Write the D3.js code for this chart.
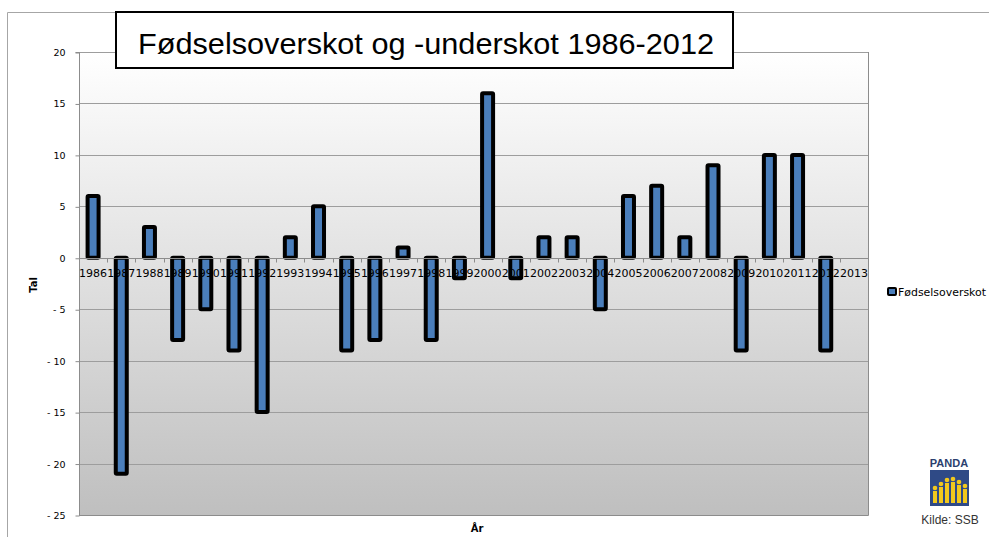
<!DOCTYPE html>
<html><head><meta charset="utf-8">
<script src="https://cdn.jsdelivr.net/npm/d3@7"></script>
<style>body{margin:0;background:#fff}svg{display:block}</style>
</head><body>
<svg id="c" width="989" height="537"></svg>
<script>
const years = ["1986","1987","1988","1989","1990","1991","1992","1993","1994","1995","1996","1997","1998","1999","2000","2001","2002","2003","2004","2005","2006","2007","2008","2009","2010","2011","2012","2013"];
const values = [6,-21,3,-8,-5,-9,-15,2,5,-9,-8,1,-8,-2,16,-2,2,2,-5,6,7,2,9,-9,10,10,-9,null];
const yTicks = [20,15,10,5,0,-5,-10,-15,-20,-25];
const seriesName = "Fødselsoverskot";
const title = "Fødselsoverskot og -underskot 1986-2012";

const svg = d3.select("#c");
const L = 79, R = 868, T = 52, B = 515;

// outer chart frame
svg.append("path").attr("d", "M7.5,537 V12.5 H989").attr("fill","none").attr("stroke","#a6a6a6");

const defs = svg.append("defs");
const g = defs.append("linearGradient").attr("id","bg").attr("x1",0).attr("y1",0).attr("x2",0).attr("y2",1);
g.append("stop").attr("offset","0%").attr("stop-color","#ffffff");
g.append("stop").attr("offset","100%").attr("stop-color","#bfbfbf");

const x = d3.scaleBand().domain(years).range([L, R]).paddingInner(0).paddingOuter(0);
const y = d3.scaleLinear().domain([-25, 20]).range([B, T]);

svg.append("rect").attr("x",L).attr("y",T).attr("width",R-L).attr("height",B-T).attr("fill","url(#bg)");

// gridlines
svg.append("g").selectAll("line").data(yTicks).join("line")
  .attr("x1",L).attr("x2",R).attr("y1",d=>Math.round(y(d))+0.5).attr("y2",d=>Math.round(y(d))+0.5)
  .attr("stroke","#9d9d9d").attr("stroke-width",1);
// plot border right/bottom
svg.append("path").attr("d",`M${L},${B+0.5} H${R+0.5} V${T}`).attr("fill","none").attr("stroke","#8c8c8c");

// y axis
const yAxis = d3.axisLeft(y).tickValues(yTicks).tickSize(4).tickPadding(10)
  .tickFormat(d => d < 0 ? "- " + Math.abs(d) : String(d));
const ya = svg.append("g").attr("transform",`translate(${L+0.5},0.5)`).call(yAxis);
ya.select(".domain").attr("stroke","#8c8c8c").attr("d",`M-4,${y(20)}H0V${B}`);
ya.selectAll(".tick line").attr("stroke","#8c8c8c");
ya.selectAll("text").attr("font-family","DejaVu Sans").attr("font-size","9.5px").attr("fill","#000");

// bars
svg.append("g").selectAll("rect").data(years.map((d,i)=>({yr:d,v:values[i]})).filter(d=>d.v!==null)).join("rect")
  .attr("x", d => x(d.yr) + x.bandwidth()/2 - 5.5)
  .attr("width", 11)
  .attr("y", d => y(Math.max(0,d.v)))
  .attr("height", d => Math.abs(y(d.v) - y(0)))
  .attr("fill","#4a7ebb").attr("stroke","#000").attr("stroke-width",4).attr("stroke-linejoin","round").attr("rx",1);

// x axis at zero
const xa = svg.append("g").attr("transform",`translate(0,${Math.round(y(0))+0.5})`);
xa.append("line").attr("x1",L).attr("x2",R).attr("stroke","#8c8c8c");
xa.selectAll("line.t").data(d3.range(years.length+1)).join("line").attr("class","t")
  .attr("x1",i=>Math.round(L + i*x.step())+0.5).attr("x2",i=>Math.round(L + i*x.step())+0.5)
  .attr("y1",0).attr("y2",4).attr("stroke","#8c8c8c");
xa.selectAll("text").data(years).join("text")
  .attr("x", d => x(d) + x.bandwidth()/2).attr("y", 18)
  .attr("text-anchor","middle").attr("font-family","DejaVu Sans").attr("font-size","10px")
  .attr("textLength", 28).attr("lengthAdjust","spacingAndGlyphs")
  .text(d=>d);

// axis titles
svg.append("text").attr("transform","translate(37,285) rotate(-90)").attr("text-anchor","middle")
  .attr("font-family","DejaVu Sans").attr("font-weight","bold").attr("font-size","10px").text("Tal");
svg.append("text").attr("x",477).attr("y",532).attr("text-anchor","middle")
  .attr("font-family","DejaVu Sans").attr("font-weight","bold").attr("font-size","10px").text("År");

// title box
svg.append("rect").attr("x",116).attr("y",12).attr("width",617).attr("height",56)
  .attr("fill","#fff").attr("stroke","#000").attr("stroke-width",2);
svg.append("text").attr("x",138).attr("y",54).attr("font-family","Liberation Sans").attr("font-size","29px")
  .attr("textLength",576).attr("lengthAdjust","spacingAndGlyphs")
  .attr("fill","#000").text(title);

// legend
svg.append("rect").attr("x",888).attr("y",288).attr("width",8).attr("height",7)
  .attr("fill","#4a7ebb").attr("stroke","#000").attr("stroke-width",2).attr("rx",1);
svg.append("text").attr("x",898).attr("y",296).attr("font-family","DejaVu Sans").attr("font-size","10px")
  .attr("textLength",88).attr("lengthAdjust","spacingAndGlyphs").text(seriesName);

// PANDA logo
const lg = svg.append("g");
lg.append("text").attr("x",949).attr("y",467).attr("text-anchor","middle").attr("font-family","Liberation Sans")
  .attr("font-weight","bold").attr("font-size","11px").attr("fill","#2b3f6e").text("PANDA");
lg.append("rect").attr("x",930).attr("y",470).attr("width",39).attr("height",36).attr("fill","#2f4a86");
const figs = [[935,8],[941,4],[947,0],[953,-1],[959,2],[965,6]];
figs.forEach(([fx,dy])=>{
  lg.append("circle").attr("cx",fx).attr("cy",480+dy).attr("r",2.3).attr("fill","#f2c81c");
  lg.append("rect").attr("x",fx-2).attr("y",483+dy).attr("width",4).attr("height",23-dy-3).attr("fill","#f2c81c");
});
lg.append("text").attr("x",950).attr("y",524).attr("text-anchor","middle").attr("font-family","Liberation Sans Narrow, Liberation Sans")
  .attr("font-size","12px").attr("fill","#333").text("Kilde: SSB");
</script>
</body></html>
